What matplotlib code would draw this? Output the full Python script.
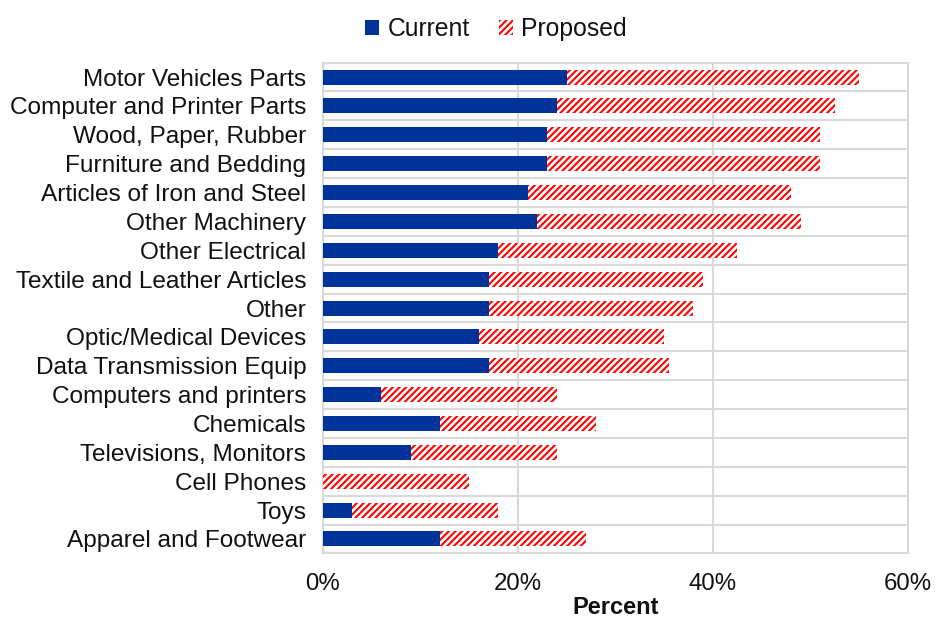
import matplotlib
matplotlib.use("Agg")
import matplotlib.pyplot as plt
import numpy as np
from matplotlib.patches import Patch

plt.rcParams['font.family'] = ['Liberation Sans', 'DejaVu Sans']
plt.rcParams['hatch.linewidth'] = 1.5

categories = [
    "Motor Vehicles Parts", "Computer and Printer Parts", "Wood, Paper, Rubber",
    "Furniture and Bedding", "Articles of Iron and Steel", "Other Machinery",
    "Other Electrical", "Textile and Leather Articles", "Other",
    "Optic/Medical Devices", "Data Transmission Equip", "Computers and printers",
    "Chemicals", "Televisions, Monitors", "Cell Phones", "Toys",
    "Apparel and Footwear",
]
current = [25, 24, 23, 23, 21, 22, 18, 17, 17, 16, 17, 6, 12, 9, 0, 3, 12]
proposed = [30, 28.5, 28, 28, 27, 27, 24.5, 22, 21, 19, 18.5, 18, 16, 15, 15, 15, 15]
xticks = [0, 20, 40, 60]
xticklabels = ["0%", "20%", "40%", "60%"]

blue = "#003399"
red = "#ff0000"
grid = "#d9d9d9"
text_color = "#111111"

fig = plt.figure(figsize=(9.36, 6.18), dpi=100)
ax = fig.add_axes([0.345, 0.1045, 0.625, 0.7942])

y = np.arange(len(categories))
ax.barh(y, current, height=0.52, color=blue, linewidth=0, zorder=3)
ax.barh(y, proposed, left=current, height=0.52, facecolor="white",
        edgecolor=red, hatch="/////", linewidth=0, zorder=3)

ax.set_ylim(len(categories) - 0.5, -0.5)
ax.set_xlim(0, 60)
ax.set_yticks(y)
ax.set_yticklabels(categories, fontsize=17.6, color=text_color)
ax.set_xticks(xticks)
ax.set_xticklabels(xticklabels, fontsize=17.3, color=text_color)
ax.set_yticks(np.arange(-0.5, len(categories), 1), minor=True)
ax.tick_params(axis="both", which="both", length=0)
ax.tick_params(axis="y", pad=12)
ax.tick_params(axis="x", pad=14)
ax.grid(axis="x", which="major", color=grid, linewidth=1.5, zorder=0)
ax.grid(axis="y", which="minor", color=grid, linewidth=1.5, zorder=0)
for s in ax.spines.values():
    s.set_color(grid)
    s.set_linewidth(1.5)
ax.set_xlabel("Percent", fontsize=17, fontweight="bold", labelpad=1,
              color=text_color)

handles = [
    Patch(facecolor=blue, edgecolor=blue, linewidth=0),
    Patch(facecolor="white", edgecolor=red, hatch="/////", linewidth=0),
]
fig.legend(handles, ["Current", "Proposed"], loc="upper center",
           bbox_to_anchor=(0.53, 1.008), ncol=2, frameon=False, fontsize=17.8,
           handlelength=0.55, handleheight=0.55, handletextpad=0.35,
           columnspacing=1.2, labelcolor=text_color)

fig.savefig("out.png", dpi=100)
